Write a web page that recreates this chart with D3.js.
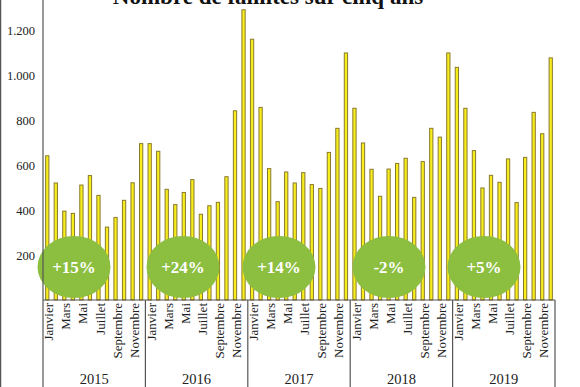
<!DOCTYPE html>
<html>
<head>
<meta charset="utf-8">
<script src="https://cdn.jsdelivr.net/npm/d3@7"></script>
<style>
  body { margin: 0; background: #fff; }
  svg { display: block; font-family: "Liberation Serif", "DejaVu Serif", serif; }
</style>
</head>
<body>
<svg width="580" height="387"></svg>
<script>
// Monthly bankruptcies per year (Jan..Dec)
const years = ["2015", "2016", "2017", "2018", "2019"];
const months = ["Janvier", "Février", "Mars", "Avril", "Mai", "Juin", "Juillet", "Août", "Septembre", "Octobre", "Novembre", "Décembre"];
const v2015 = [641, 520, 395, 385, 511, 553, 465, 324, 367, 443, 521, 695];
const v2016 = [695, 661, 492, 424, 478, 535, 381, 419, 434, 548, 841, 1290];
const v2017 = [1159, 856, 584, 437, 569, 520, 566, 513, 496, 656, 763, 1098];
const v2018 = [852, 698, 581, 461, 582, 607, 630, 456, 615, 763, 724, 1098];
const v2019 = [1034, 852, 664, 498, 554, 523, 627, 433, 634, 834, 739, 1076];
const changes = ["+15%", "+24%", "+14%", "-2%", "+5%"];
const yTicks = [200, 400, 600, 800, 1000, 1200];

const series = [v2015, v2016, v2017, v2018, v2019];
const data = [];
series.forEach(function(vals, yi) {
  vals.forEach(function(v, mi) {
    data.push({ i: yi * 12 + mi, year: years[yi], month: months[mi], m: mi, value: v });
  });
});

const svg = d3.select("svg");
const left = 43, right = 555, base = 300, bottom = 387;

const x = d3.scaleBand()
  .domain(data.map(d => d.i))
  .range([left, right])
  .paddingInner(0.5)
  .paddingOuter(0.25);

const y = d3.scaleLinear().domain([0, 1200]).range([base, 30]);

// frame line on the left edge
svg.append("line")
  .attr("x1", 0.5).attr("x2", 0.5).attr("y1", 0).attr("y2", bottom)
  .attr("stroke", "#555").attr("stroke-width", 1.5);

// Title (cut at top)
svg.append("text")
  .attr("x", 268)
  .attr("y", 4)
  .attr("text-anchor", "middle")
  .attr("font-size", "23px")
  .attr("font-weight", "bold")
  .attr("fill", "#111")
  .text("Nombre de faillites sur cinq ans");

// Y axis labels
const yAxis = d3.axisLeft(y)
  .tickValues(yTicks)
  .tickSize(0)
  .tickPadding(8)
  .tickFormat(d => d3.format(",")(d).replace(",", "."));

svg.append("g")
  .attr("transform", "translate(" + left + ",0)")
  .call(yAxis)
  .call(g => g.select(".domain").remove())
  .selectAll("text")
  .attr("font-family", "Liberation Serif, serif")
  .attr("font-size", "12.5px")
  .attr("fill", "#222");

// Bars
svg.append("g")
  .selectAll("rect")
  .data(data)
  .enter()
  .append("rect")
  .attr("x", d => x(d.i) + 0.5)
  .attr("width", x.bandwidth() - 1)
  .attr("y", d => y(d.value))
  .attr("height", d => base - y(d.value))
  .attr("fill", "#f7ec1c")
  .attr("stroke", "#8a7b2c")
  .attr("stroke-width", 1);

// Green ellipses with yearly change
const step = x.step();
const yearMid = function(yi) {
  return (x(yi * 12) + x(yi * 12 + 11) + x.bandwidth()) / 2;
};
const badgeX = [74, 183, 279, 389, 484];

const badges = svg.append("g")
  .selectAll("g")
  .data(changes)
  .enter()
  .append("g")
  .attr("transform", (d, i) => "translate(" + badgeX[i] + ",267)");

badges.append("ellipse")
  .attr("rx", 36.5)
  .attr("ry", 31)
  .attr("fill", "#8cbe3f");

badges.append("text")
  .attr("text-anchor", "middle")
  .attr("dy", "0.35em")
  .attr("font-size", "17px")
  .attr("font-weight", "bold")
  .attr("fill", "#fff")
  .text(d => d);

// Axis lines
svg.append("line")
  .attr("x1", left).attr("x2", left).attr("y1", 0).attr("y2", bottom)
  .attr("stroke", "#555").attr("stroke-width", 1.2);

svg.append("line")
  .attr("x1", left).attr("x2", right).attr("y1", base).attr("y2", base)
  .attr("stroke", "#555").attr("stroke-width", 1.2);

// Year dividers
svg.append("g")
  .selectAll("line")
  .data(d3.range(1, years.length + 1))
  .enter()
  .append("line")
  .attr("x1", d => left + d * 12 * step)
  .attr("x2", d => left + d * 12 * step)
  .attr("y1", base)
  .attr("y2", bottom)
  .attr("stroke", "#555")
  .attr("stroke-width", 1.2);

// Month labels (every other month)
svg.append("g")
  .selectAll("text")
  .data(data.filter(d => d.m % 2 === 0))
  .enter()
  .append("text")
  .attr("transform", d => "translate(" + (x(d.i) + x.bandwidth() / 2 + 1.5) + "," + (base + 3) + ") rotate(-90)")
  .attr("text-anchor", "end")
  .attr("dy", "0.35em")
  .attr("font-size", "13px")
  .attr("fill", "#222")
  .text(d => d.month);

// Year labels
svg.append("g")
  .selectAll("text")
  .data(years)
  .enter()
  .append("text")
  .attr("x", (d, i) => yearMid(i))
  .attr("y", 384)
  .attr("text-anchor", "middle")
  .attr("font-size", "14.5px")
  .attr("fill", "#222")
  .text(d => d);
</script>
</body>
</html>
